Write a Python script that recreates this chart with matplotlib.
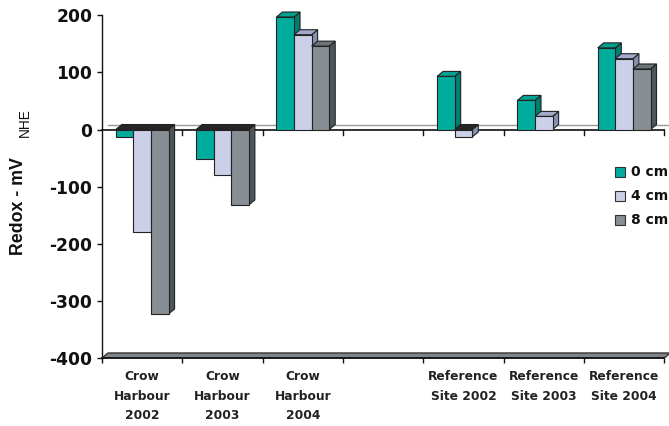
import numpy as np
import matplotlib
matplotlib.use("Agg")
import matplotlib.pyplot as plt
from matplotlib.patches import Polygon, Rectangle, Patch

# Redox potential (mV vs NHE) at three sediment depths
categories = ["Crow\nHarbour\n2002", "Crow\nHarbour\n2003", "Crow\nHarbour\n2004", "",
              "Reference\nSite 2002", "Reference\nSite 2003", "Reference\nSite 2004"]
series_names = ["0 cm", "4 cm", "8 cm"]
depth_0cm = [-13, -51, 197, np.nan, 93, 51, 143]
depth_4cm = [-179, -79, 166, np.nan, -13, 23, 124]
depth_8cm = [-323, -132, 146, np.nan, np.nan, np.nan, 106]
y_ticks = [-400, -300, -200, -100, 0, 100, 200]

series = [depth_0cm, depth_4cm, depth_8cm]
front_colors = ["#00ad9c", "#cbcfe8", "#878e94"]
top_colors = ["#00a08f", "#a3abca", "#6d7579"]
side_colors = ["#007e70", "#858fb0", "#4e5659"]
edge = "#222222"

W, H = 669, 426
fig = plt.figure(figsize=(W / 100, H / 100), dpi=100)
ax_left, ax_right, ax_top, ax_bottom = 102, 664.3, 15.3, 358
ax = fig.add_axes([ax_left / W, 1 - ax_bottom / H,
                   (ax_right - ax_left) / W, (ax_bottom - ax_top) / H])
ymin, ymax = -400, 200
ax.set_xlim(-0.5, len(categories) - 0.5)
ax.set_ylim(ymin, ymax)

# pseudo-3D depth offsets, in data units
px_x = (ax_right - ax_left) / len(categories)
px_y = (ax_bottom - ax_top) / (ymax - ymin)
dx = 6 / px_x
dy = 5 / px_y
bw = 0.219

# zero plane lines and ticks
xl, xr = -0.5, len(categories) - 0.5
ax.plot([xl + dx, xr + dx], [dy, dy], color="#9a9a9a", lw=1, zorder=1, clip_on=False)
ax.plot([xl, xr], [0, 0], color="#111111", lw=1.2, zorder=1, clip_on=False)
for b in np.arange(0.5, len(categories), 1.0):
    ax.plot([b, b], [0, -5 / px_y], color="#111111", lw=1, zorder=1, clip_on=False)

# floor slab
floor = Polygon([(xl, ymin), (xl + dx, ymin + dy), (xr + dx, ymin + dy), (xr, ymin)],
                closed=True, facecolor="#7e858a", edgecolor="#333333", lw=1,
                zorder=1, clip_on=False)
ax.add_patch(floor)

# bars
z = 3
for j in range(len(categories)):
    for i, vals in enumerate(series):
        v = vals[j]
        if np.isnan(v):
            continue
        x0 = j + (i - 1) * bw - bw / 2
        if v >= 0:
            top = [(x0, v), (x0 + dx, v + dy), (x0 + bw + dx, v + dy), (x0 + bw, v)]
            side = [(x0 + bw, 0), (x0 + bw + dx, dy), (x0 + bw + dx, v + dy), (x0 + bw, v)]
            tcol = top_colors[i]
        else:
            top = [(x0, 0), (x0 + dx, dy), (x0 + bw + dx, dy), (x0 + bw, 0)]
            side = [(x0 + bw, v), (x0 + bw + dx, v + dy), (x0 + bw + dx, dy), (x0 + bw, 0)]
            tcol = "#262626"
        ax.add_patch(Polygon(side, closed=True, facecolor=side_colors[i], edgecolor=edge,
                             lw=0.8, zorder=z, clip_on=False))
        ax.add_patch(Polygon(top, closed=True, facecolor=tcol, edgecolor=edge,
                             lw=0.8, zorder=z, clip_on=False))
        ax.add_patch(Rectangle((x0, 0), bw, v, facecolor=front_colors[i], edgecolor=edge,
                               lw=0.8, zorder=z + 1, clip_on=False))
        z += 2

# axes styling
for s in ["top", "right"]:
    ax.spines[s].set_visible(False)
ax.spines["left"].set_color("#111111")
ax.spines["bottom"].set_color("#111111")
ax.spines["left"].set_linewidth(1)
ax.spines["bottom"].set_linewidth(1.2)
ax.spines["left"].set_zorder(0.5)

ax.set_yticks(y_ticks)
ax.set_yticklabels([str(t) for t in y_ticks], fontfamily="DejaVu Sans",
                   fontweight="bold", fontsize=12.3, color="#111111")
ax.tick_params(axis="y", direction="out", length=3.6, width=1, pad=3.4, colors="#111111")

ax.set_xticks(range(len(categories)))
ax.set_xticklabels(categories, fontfamily="DejaVu Sans", fontweight="bold",
                   fontsize=8.8, color="#222222", linespacing=1.62)
ax.set_xticks(np.arange(-0.5, len(categories), 1.0), minor=True)
ax.tick_params(axis="x", which="major", length=0, pad=9)
ax.tick_params(axis="x", which="minor", direction="out", length=3.6, width=1, colors="#111111")

# y-axis title with subscript
fig.text(19 / W, 1 - 206 / H, "Redox - mV", rotation=90, ha="center", va="center",
         fontfamily="Liberation Sans", fontweight="bold", fontsize=12.8, color="#111111")
fig.text(25 / W, 1 - 123 / H, "NHE", rotation=90, ha="center", va="center",
         fontfamily="Liberation Sans", fontsize=9.8, color="#111111")

# legend
handles = [Patch(facecolor=front_colors[i], edgecolor="#333333", lw=0.8)
           for i in range(3)]
leg = fig.legend(handles, series_names, loc="upper left",
                 bbox_to_anchor=(615 / W, 1 - 165.5 / H), frameon=False,
                 prop={"family": "DejaVu Sans", "weight": "bold", "size": 10},
                 handlelength=0.75, handleheight=0.75, handletextpad=0.4,
                 labelspacing=0.72, borderpad=0, borderaxespad=0)
for t in leg.get_texts():
    t.set_color("#111111")

fig.savefig("out.png", dpi=100)
